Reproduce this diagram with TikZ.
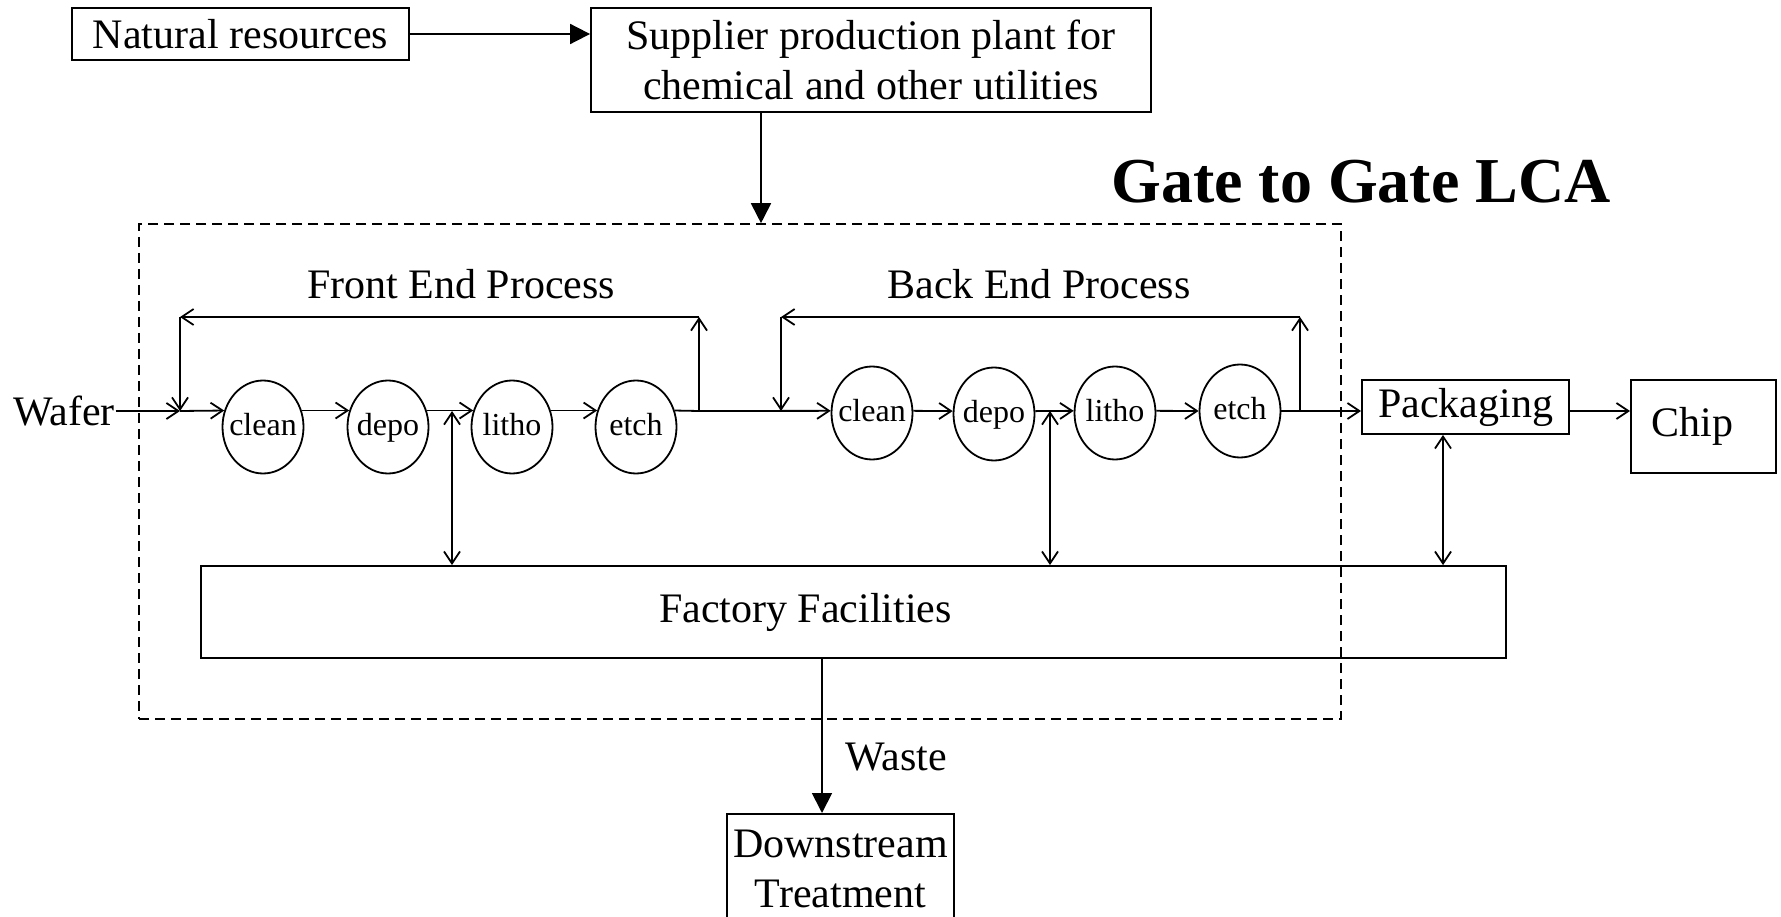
\documentclass[tikz,border=0pt]{standalone}
\usepackage{fontspec}
\setmainfont{Liberation Serif}
\usetikzlibrary{arrows.meta,shapes.geometric,calc}
\begin{document}
\begin{tikzpicture}[x=1pt,y=-1pt,
  font=\fontsize{42}{50}\selectfont,
  line width=1.8pt,
  box/.style={draw, rectangle, inner sep=0pt},
  proc/.style={draw, ellipse, minimum width=81pt, minimum height=93pt, inner sep=0pt, text height=21pt, text depth=5pt, font=\fontsize{32}{38}\selectfont},
  lbl/.style={inner sep=0pt},
  arr/.style={-{Straight Barb[length=12pt,width=16pt]}},
  darr/.style={{Straight Barb[length=12pt,width=16pt]}-{Straight Barb[length=12pt,width=16pt]}},
  tri/.style={-{Triangle[length=20pt,width=20pt]}},
]
\useasboundingbox (0,0) rectangle (1781,917);
\clip (0,0) rectangle (1781,917);

% top boxes
\node[box, minimum width=337pt, minimum height=52pt] (nat) at (240.5,34) {Natural resources};
\node[box, align=center, minimum width=560pt, minimum height=104pt] (sup) at (871,60) {Supplier production plant for\\chemical and other utilities};
\node[lbl, font=\bfseries\fontsize{64}{70}\selectfont] (gtitle) at (1361,182) {Gate to Gate LCA};

% gate boundary
\node[draw, dash pattern=on 10pt off 6pt, line width=1.6pt, minimum width=1202pt, minimum height=495pt, inner sep=0pt] (gate) at (740,471.5) {};

\node[lbl] (fe) at (461,284) {Front End Process};
\node[lbl] (be) at (1039,284) {Back End Process};
\node[lbl] (wafer) at (64,411) {Wafer};

% front end processes
\node[proc] (clean1) at (263,427) {\makebox[0pt]{clean}};
\node[proc] (depo1) at (388,427) {\makebox[0pt]{depo}};
\node[proc] (litho1) at (512,427) {\makebox[0pt]{litho}};
\node[proc] (etch1) at (636,427) {\makebox[0pt]{etch}};

% back end processes
\node[proc] (clean2) at (872,413) {\makebox[0pt]{clean}};
\node[proc] (depo2) at (994,414) {\makebox[0pt]{depo}};
\node[proc] (litho2) at (1115,413) {\makebox[0pt]{litho}};
\node[proc] (etch2) at (1240,411) {\makebox[0pt]{etch}};

\node[box, minimum width=207pt, minimum height=54pt] (pack) at (1465.5,407) {Packaging};
\node[box, minimum width=145pt, minimum height=93pt] (chip) at (1703.5,426.5) {\hspace*{-22pt}Chip};
\node[box, minimum width=1305pt, minimum height=92pt] (fac) at (853.5,612) {\hspace*{-96pt}Factory Facilities};
\node[box, align=center, anchor=north, inner ysep=16pt, minimum width=227pt] (ds) at (840.5,813) {Downstream\\Treatment};
\node[lbl] (waste) at (896,757) {Waste};

% coordinates
\coordinate (jf) at (180,411);
\coordinate (tfl) at (180,317);
\coordinate (tfr) at (699,317);
\coordinate (rf) at (699,411);
\coordinate (jb) at (781,411);
\coordinate (tbl) at (781,317);
\coordinate (tbr) at (1300,317);
\coordinate (rb) at (1300,411);
\coordinate (dfa) at (452,411);
\coordinate (dba) at (1050,411);
\coordinate (dpa) at (1443,500);
\coordinate (sx) at (761,0);
\coordinate (wx) at (822,0);

% connectors
\draw[tri] (nat.east) -- (nat.east -| sup.west);
\draw[tri] (sup.south -| sx) -- (gate.north -| sx);

\draw[arr] (wafer.east) -- (jf);
\draw[arr] (jf) -- (clean1.157);
\draw[arr] (clean1.23) -- (depo1.157);
\draw[arr] (depo1.23) -- (litho1.157);
\draw[arr] (litho1.23) -- (etch1.157);
\draw (etch1.23) -- (rf);
\draw[arr] (rf) -- (tfr);
\draw[arr] (tfr) -- (tfl);
\draw[arr] (tfl) -- (jf);

\draw[arr] (rf) -- (clean2.177);
\draw[arr] (clean2.3) -- (depo2.176);
\draw[arr] (depo2.4) -- (litho2.177);
\draw[arr] (litho2.3) -- (etch2.180);
\draw (etch2.0) -- (rb);
\draw[arr] (rb) -- (tbr);
\draw[arr] (tbr) -- (tbl);
\draw[arr] (tbl) -- (jb);

\draw[arr] (rb) -- (pack.west |- rb);
\draw[arr] (pack.east |- rb) -- (chip.west |- rb);

\draw[darr] (dfa) -- (dfa |- fac.north);
\draw[darr] (dba) -- (dba |- fac.north);
\draw[darr] (pack.south -| dpa) -- (fac.north -| dpa);

\draw[tri] (fac.south -| wx) -- (ds.north -| wx);
\end{tikzpicture}
\end{document}
